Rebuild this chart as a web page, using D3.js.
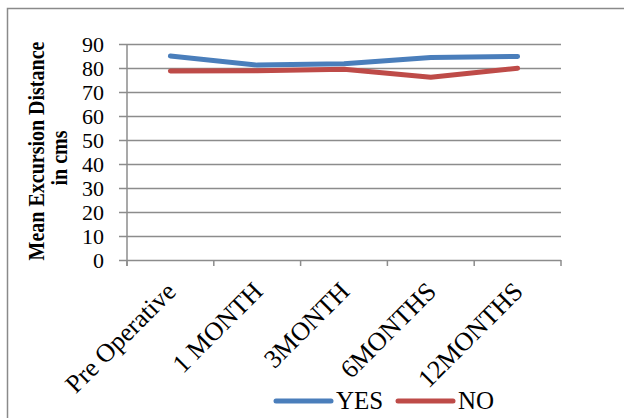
<!DOCTYPE html>
<html>
<head>
<meta charset="utf-8">
<script src="https://cdn.jsdelivr.net/npm/d3@7"></script>
<style>
  html, body { margin: 0; padding: 0; background: #fff; }
  svg { display: block; }
  text { font-family: "Liberation Serif", "Times New Roman", serif; fill: #000; }
</style>
</head>
<body>
<svg id="chart" width="624" height="418"></svg>
<script>
// Follow-up time points
const categories = ["Pre Operative", "1 MONTH", "3MONTH", "6MONTHS", "12MONTHS"];
// Mean excursion distance (cm) per group
const yesValues = [85.0, 81.2, 81.8, 84.4, 84.8];
const noValues  = [78.8, 78.9, 79.5, 76.1, 79.9];
const yTicks = [0, 10, 20, 30, 40, 50, 60, 70, 80, 90];

const series = [
  { name: "YES", values: yesValues, color: "#4A7EBB" },
  { name: "NO",  values: noValues,  color: "#BE4B48" }
];

const svg = d3.select("#chart");
const W = 624, H = 418;
const plot = { left: 127, right: 561, top: 44, bottom: 260 };
const gridColor = "#8c8c8c";

// Chart area border (runs off the right and bottom edges)
svg.append("rect")
  .attr("x", 7.5).attr("y", 8.5)
  .attr("width", W).attr("height", H)
  .attr("fill", "none").attr("stroke", "#8a8a8a").attr("stroke-width", 1.5);

const x = d3.scaleBand().domain(categories).range([plot.left, plot.right]).padding(0);
const y = d3.scaleLinear().domain([0, 90]).range([plot.bottom, plot.top]);

// Horizontal gridlines + y axis labels
const yAxis = d3.axisLeft(y).tickValues(yTicks).tickSize(-(plot.right - plot.left + 8));
const gy = svg.append("g").attr("transform", `translate(${plot.left - 8},0)`).call(yAxis);
gy.select(".domain").remove();
gy.selectAll(".tick line").attr("stroke", gridColor).attr("stroke-width", 1.5);
gy.selectAll(".tick text")
  .attr("x", -15)
  .attr("dy", "0.34em")
  .style("font-size", "22px")
  .style("font-family", "'Liberation Serif', serif")
  .attr("fill", "#000");

// Vertical axis line
svg.append("line")
  .attr("x1", plot.left).attr("x2", plot.left)
  .attr("y1", plot.top).attr("y2", plot.bottom + 6)
  .attr("stroke", gridColor).attr("stroke-width", 1.5);

// Category axis tick marks at band edges
const edges = categories.map(c => x(c)).concat([plot.right]);
svg.append("g").selectAll("line").data(edges).join("line")
  .attr("x1", d => d).attr("x2", d => d)
  .attr("y1", plot.bottom).attr("y2", plot.bottom + 6)
  .attr("stroke", gridColor).attr("stroke-width", 1.5);

// Rotated category labels
svg.append("g").selectAll("text").data(categories).join("text")
  .attr("transform", d => `translate(${x(d) + x.bandwidth() / 2 + 7},${plot.bottom + 33}) rotate(-45)`)
  .attr("text-anchor", "end")
  .style("font-size", "26px")
  .text(d => d);

// Series lines
const line = d3.line()
  .x((d, i) => x(categories[i]) + x.bandwidth() / 2)
  .y(d => y(d));

svg.append("g").selectAll("path").data(series).join("path")
  .attr("d", s => line(s.values))
  .attr("fill", "none")
  .attr("stroke", s => s.color)
  .attr("stroke-width", 5)
  .attr("stroke-linecap", "round")
  .attr("stroke-linejoin", "round");

// Y axis title (two lines), glyphs slightly widened across the line
svg.append("text")
  .attr("transform", "translate(44,151) rotate(-90) scale(1,1.2)")
  .attr("text-anchor", "middle")
  .style("font-size", "20px")
  .style("font-weight", "bold")
  .text("Mean Excursion Distance");
svg.append("text")
  .attr("transform", "translate(67,158) rotate(-90) scale(1,1.2)")
  .attr("text-anchor", "middle")
  .style("font-size", "20px")
  .style("font-weight", "bold")
  .text("in cms");

// Legend
const legend = svg.append("g");
const legendItems = [
  { s: series[0], x0: 276 },
  { s: series[1], x0: 398 }
];
legendItems.forEach(item => {
  legend.append("line")
    .attr("x1", item.x0).attr("x2", item.x0 + 55)
    .attr("y1", 401).attr("y2", 401)
    .attr("stroke", item.s.color).attr("stroke-width", 5)
    .attr("stroke-linecap", "round");
  legend.append("text")
    .attr("x", item.x0 + 60).attr("y", 409)
    .style("font-size", "25px")
    .text(item.s.name);
});
</script>
</body>
</html>
